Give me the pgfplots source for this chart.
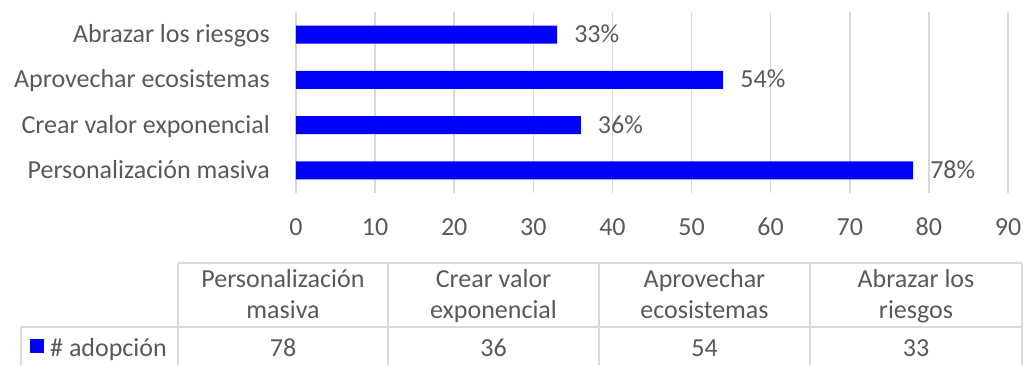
\documentclass[border=0pt]{standalone}
\usepackage{fontspec}
\setmainfont{Carlito}
\usepackage{pgfplots}
\pgfplotsset{compat=1.18}
\definecolor{txt}{HTML}{595959}
\definecolor{gridc}{HTML}{D9D9D9}
\definecolor{barblue}{HTML}{0000FF}
\newcommand{\lbl}{\fontsize{26bp}{31bp}\selectfont}
\begin{document}
\begin{tikzpicture}[x=1bp,y=1bp]
\begin{axis}[
  scale only axis, width=712bp, height=181bp,
  xbar, bar width=18bp,
  xmin=0, xmax=90, ymin=-0.5, ymax=3.5,
  ytick={0,1,2,3},
  yticklabels={Personalización masiva, Crear valor exponencial, Aprovechar ecosistemas, Abrazar los riesgos},
  xtick={0,10,...,90},
  xmajorgrids, major grid style={gridc, line width=1.5bp},
  axis line style={draw=none}, major tick length=0pt,
  tick label style={text=txt, font=\lbl, inner sep=0pt},
  /pgf/number format/assume math mode=true,
  yticklabel style={anchor=base east, xshift=-26bp, yshift=-8bp},
  xticklabel style={anchor=base, yshift=-42bp},
  point meta=x,
  nodes near coords={\pgfmathprintnumber{\pgfplotspointmeta}\%},
  every node near coord/.append style={text=txt, font=\lbl, anchor=base west, xshift=17bp, yshift=-8bp, inner sep=0pt, /pgf/number format/assume math mode=true},
  clip=false,
]
\addplot[fill=barblue, draw=none] coordinates {(78,0) (36,1) (54,2) (33,3)};
\coordinate (O) at (rel axis cs:0,0);
\end{axis}
\begin{scope}[shift={(O)}, shift={(-296,-172)}]
\path[use as bounding box] (0,0) rectangle (1024,365);
% data table
\begin{scope}[gridc, line width=1.5bp]
\draw (178,102) -- (1022,102);
\draw (21,38) -- (1022,38);
\draw (21,38) -- (21,0);
\foreach \xx in {178,388,599,810,1022} {\draw (\xx,102) -- (\xx,0);}
\end{scope}
\begin{scope}[every node/.style={text=txt, font=\lbl, inner sep=0pt, anchor=base}]
\node at (283,78) {Personalización};
\node at (283,47) {masiva};
\node at (493.5,78) {Crear valor};
\node at (493.5,47) {exponencial};
\node at (704.5,78) {Aprovechar};
\node at (704.5,47) {ecosistemas};
\node at (916,78) {Abrazar los};
\node at (916,47) {riesgos};
\node at (283,9) {78};
\node at (493.5,9) {36};
\node at (704.5,9) {54};
\node at (916,9) {33};
\node[anchor=base west] at (50,9) {\# adopción};
\end{scope}
\fill[barblue] (30,12) rectangle (44,26);
\end{scope}
\end{tikzpicture}
\end{document}
